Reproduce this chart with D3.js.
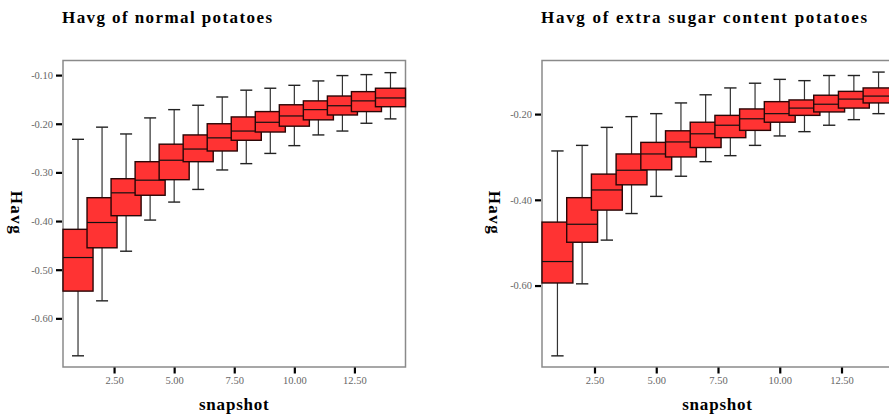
<!DOCTYPE html>
<html>
<head>
<meta charset="utf-8">
<script src="https://cdn.jsdelivr.net/npm/d3@7"></script>
<style>
  body { margin: 0; background: #fff; }
  svg { display: block; }
</style>
</head>
<body>
<div id="chart"></div>
<script>
// snapshots 1..14
var snapshots = [1, 2, 3, 4, 5, 6, 7, 8, 9, 10, 11, 12, 13, 14];
var xTicks = [2.5, 5, 7.5, 10, 12.5];

// normal potatoes
var normalHigh = [-0.232, -0.207, -0.221, -0.188, -0.171, -0.162, -0.145, -0.131, -0.127, -0.121, -0.112, -0.101, -0.099, -0.095];
var normalQ3   = [-0.417, -0.352, -0.313, -0.278, -0.242, -0.223, -0.200, -0.186, -0.175, -0.161, -0.153, -0.143, -0.134, -0.127];
var normalMed  = [-0.475, -0.403, -0.342, -0.316, -0.275, -0.252, -0.229, -0.215, -0.197, -0.184, -0.171, -0.163, -0.153, -0.147];
var normalQ1   = [-0.544, -0.455, -0.389, -0.347, -0.315, -0.278, -0.256, -0.234, -0.217, -0.205, -0.192, -0.182, -0.175, -0.165];
var normalLow  = [-0.677, -0.564, -0.462, -0.398, -0.361, -0.335, -0.295, -0.282, -0.261, -0.245, -0.223, -0.215, -0.199, -0.190];
var normalYTicks = [-0.6, -0.5, -0.4, -0.3, -0.2, -0.1];

// extra sugar content potatoes
var sugarHigh = [-0.286, -0.273, -0.231, -0.206, -0.199, -0.174, -0.155, -0.139, -0.128, -0.119, -0.122, -0.110, -0.110, -0.102];
var sugarQ3   = [-0.452, -0.395, -0.340, -0.293, -0.266, -0.239, -0.219, -0.203, -0.188, -0.171, -0.167, -0.156, -0.147, -0.139];
var sugarMed  = [-0.544, -0.457, -0.377, -0.331, -0.293, -0.265, -0.246, -0.226, -0.211, -0.199, -0.186, -0.177, -0.165, -0.158];
var sugarQ1   = [-0.594, -0.499, -0.424, -0.365, -0.330, -0.300, -0.278, -0.255, -0.238, -0.219, -0.203, -0.195, -0.186, -0.174];
var sugarLow  = [-0.764, -0.596, -0.494, -0.432, -0.392, -0.345, -0.311, -0.297, -0.273, -0.251, -0.241, -0.226, -0.213, -0.199];
var sugarYTicks = [-0.6, -0.4, -0.2];

var w = 889, h = 418;
var svg = d3.select("#chart").append("svg").attr("width", w).attr("height", h);

var serif = "'Liberation Serif', 'Times New Roman', serif";
var fmt = function(d) { return d3.format(".2f")(d).replace("\u2212", "-"); };

function panel(p) {
  var x = d3.scaleLinear().domain([0.375, 14.625]).range([p.left, p.right]);
  var y = d3.scaleLinear().domain(p.yDomain).range([367, 60.5]);
  var g = svg.append("g");

  // title
  g.append("text")
    .attr("x", p.left - 1).attr("y", 23)
    .attr("font-family", serif).attr("font-weight", "bold").attr("font-size", 17)
    .attr("textLength", p.titleLen).attr("lengthAdjust", "spacing")
    .text(p.title);

  // frame
  g.append("rect")
    .attr("x", p.left).attr("y", 60.5)
    .attr("width", p.right - p.left).attr("height", 367 - 60.5)
    .attr("fill", "none").attr("stroke", "#8a8a8a").attr("stroke-width", 1.5);

  var boxes = snapshots.map(function(s, i) {
    return {s: s, hi: p.hi[i], q3: p.q3[i], med: p.med[i], q1: p.q1[i], lo: p.lo[i]};
  });

  var bw = x(1.25) - x(0), cw = x(0.5) - x(0);

  var b = g.selectAll("g.box").data(boxes).enter().append("g").attr("class", "box");

  // whiskers
  b.append("line")
    .attr("x1", function(d) { return x(d.s); }).attr("x2", function(d) { return x(d.s); })
    .attr("y1", function(d) { return y(d.hi); }).attr("y2", function(d) { return y(d.lo); })
    .attr("stroke", "#333").attr("stroke-width", 1.2);
  b.selectAll("line.cap")
    .data(function(d) { return [{s: d.s, v: d.hi}, {s: d.s, v: d.lo}]; })
    .enter().append("line").attr("class", "cap")
    .attr("x1", function(d) { return x(d.s) - cw / 2; }).attr("x2", function(d) { return x(d.s) + cw / 2; })
    .attr("y1", function(d) { return y(d.v); }).attr("y2", function(d) { return y(d.v); })
    .attr("stroke", "#222").attr("stroke-width", 1.4);

  // box + median
  b.append("rect")
    .attr("x", function(d) { return x(d.s) - bw / 2; })
    .attr("y", function(d) { return y(d.q3); })
    .attr("width", bw)
    .attr("height", function(d) { return y(d.q1) - y(d.q3); })
    .attr("fill", "#ff3333").attr("stroke", "#2a0606").attr("stroke-width", 1.4);
  b.append("line")
    .attr("x1", function(d) { return x(d.s) - bw / 2; }).attr("x2", function(d) { return x(d.s) + bw / 2; })
    .attr("y1", function(d) { return y(d.med); }).attr("y2", function(d) { return y(d.med); })
    .attr("stroke", "#111").attr("stroke-width", 1.2);

  // axes
  var ya = g.append("g").attr("transform", "translate(" + (p.left - 1) + ",0)")
    .call(d3.axisLeft(y).tickValues(p.yTicks).tickSize(6).tickPadding(3).tickFormat(fmt));
  var xa = g.append("g").attr("transform", "translate(0," + 367.5 + ")")
    .call(d3.axisBottom(x).tickValues(xTicks).tickSize(6).tickPadding(3).tickFormat(fmt));
  [ya, xa].forEach(function(a) {
    a.select(".domain").remove();
    a.selectAll(".tick line").attr("stroke", "#000").attr("stroke-width", 2.2);
    a.selectAll(".tick text").attr("fill", "#666").attr("font-family", serif).attr("font-size", 10.5);
  });

  // axis titles
  g.append("text")
    .attr("x", (p.left + p.right) / 2 + p.xLabShift).attr("y", 410)
    .attr("text-anchor", "middle")
    .attr("font-family", serif).attr("font-weight", "bold").attr("font-size", 17)
    .attr("letter-spacing", 0.8)
    .text("snapshot");
  g.append("text")
    .attr("transform", "translate(" + p.yLabX + ",213) rotate(90)")
    .attr("text-anchor", "middle")
    .attr("font-family", serif).attr("font-weight", "bold").attr("font-size", 17)
    .attr("letter-spacing", 1.5)
    .text("Havg");
}

panel({
  left: 63, right: 405.5, yDomain: [-0.70, -0.07],
  hi: normalHigh, q3: normalQ3, med: normalMed, q1: normalQ1, lo: normalLow,
  yTicks: normalYTicks, title: "Havg of normal potatoes", titleLen: 210,
  yLabX: 11, xLabShift: 0
});
panel({
  left: 542, right: 894, yDomain: [-0.79, -0.075],
  hi: sugarHigh, q3: sugarQ3, med: sugarMed, q1: sugarQ1, lo: sugarLow,
  yTicks: sugarYTicks, title: "Havg of extra sugar content potatoes", titleLen: 326,
  yLabX: 489, xLabShift: -0.5
});
</script>
</body>
</html>
